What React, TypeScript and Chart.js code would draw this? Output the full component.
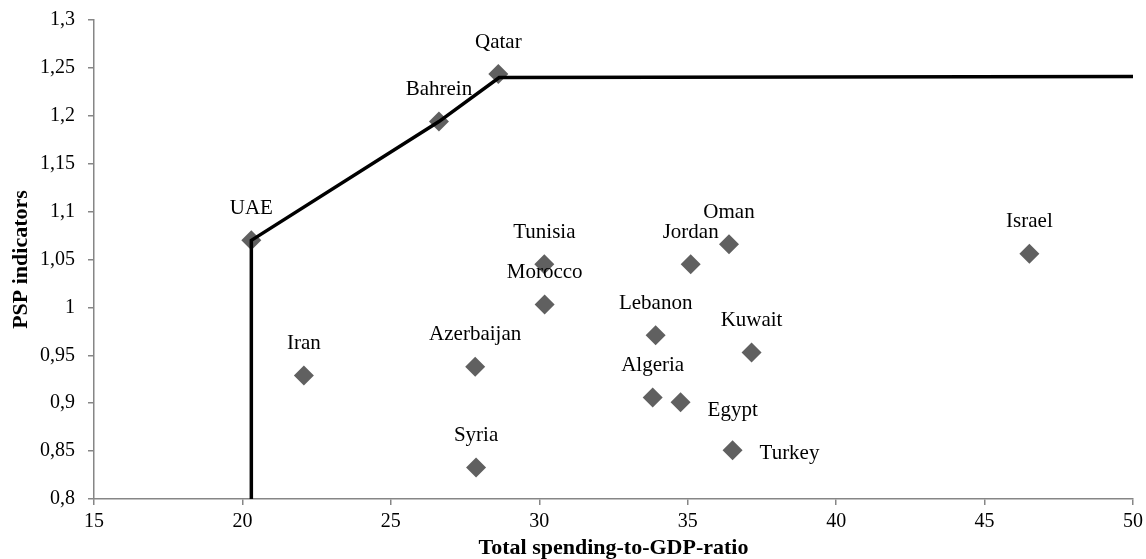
import React, { useEffect, useRef } from "react";
import { Chart, registerables } from "chart.js";

Chart.register(...registerables);

const countries = ["UAE", "Qatar", "Bahrein", "Iran", "Azerbaijan", "Syria", "Tunisia", "Morocco", "Jordan", "Oman", "Lebanon", "Kuwait", "Algeria", "Egypt", "Turkey", "Israel"];
const spending = [20.3, 28.62, 26.62, 22.07, 27.84, 27.87, 30.17, 30.18, 35.1, 36.39, 33.92, 37.15, 33.82, 34.76, 36.51, 46.51];
const psp = [1.07, 1.2436, 1.194, 0.929, 0.938, 0.833, 1.045, 1.003, 1.045, 1.066, 0.971, 0.953, 0.906, 0.901, 0.851, 1.056];

const frontierX = [20.3, 20.3, 26.62, 28.65, 50];
const frontierY = [0.8, 1.07, 1.194, 1.24, 1.241];

const xTitle = "Total spending-to-GDP-ratio";
const yTitle = "PSP indicators";

const SERIF = "'Liberation Serif', 'Times New Roman', serif";
const AXIS_GRAY = "#868686";

// label placement (style only)
const rightLabels: Record<string, number> = { Egypt: 8, Turkey: 3 };

const labelPlugin = {
  id: "pointLabels",
  afterDatasetsDraw(chart: any) {
    const meta = chart.getDatasetMeta(1);
    const ctx = chart.ctx;
    ctx.save();
    ctx.font = `21px ${SERIF}`;
    ctx.fillStyle = "#000";
    ctx.textBaseline = "middle";
    meta.data.forEach((el: any, i: number) => {
      const name = countries[i];
      if (name in rightLabels) {
        ctx.textAlign = "left";
        ctx.fillText(name, el.x + 27, el.y + rightLabels[name]);
      } else {
        ctx.textAlign = "center";
        ctx.fillText(name, el.x, el.y - 32);
      }
    });
    ctx.restore();
  },
};

function fmt(v: number) {
  return String(parseFloat(Number(v).toFixed(2))).replace(".", ",");
}

export default function App() {
  const ref = useRef<HTMLCanvasElement | null>(null);
  useEffect(() => {
    if (!ref.current) return;
    const chart = new Chart(ref.current, {
      type: "scatter",
      data: {
        datasets: [
          {
            type: "line",
            label: "Frontier",
            data: frontierX.map((x, i) => ({ x, y: frontierY[i] })),
            borderColor: "#000",
            borderWidth: 3.5,
            pointRadius: 0,
            fill: false,
            tension: 0,
            order: 0,
          } as any,
          {
            label: "Countries",
            data: spending.map((x, i) => ({ x, y: psp[i] })),
            pointStyle: "rectRot",
            pointRadius: 10,
            pointHoverRadius: 10,
            backgroundColor: "#606060",
            borderWidth: 0,
            order: 1,
          },
        ],
      },
      options: {
        responsive: false,
        animation: false,
        layout: { padding: { top: 20, right: 13, left: 0, bottom: 0 } },
        plugins: { legend: { display: false }, tooltip: { enabled: false } },
        scales: {
          x: {
            type: "linear",
            min: 15,
            max: 50,
            afterFit: (s: any) => {
              s.height = 60;
            },
            ticks: {
              stepSize: 5,
              autoSkip: false,
              maxRotation: 0,
              color: "#000",
              padding: 3,
              font: { family: SERIF, size: 20, lineHeight: 1.4 },
            },
            grid: { drawOnChartArea: false, drawTicks: true, tickLength: 6, color: AXIS_GRAY, lineWidth: 1.5 },
            border: { display: true, color: AXIS_GRAY, width: 1.5 },
            title: {
              display: true,
              text: xTitle,
              color: "#000",
              padding: 0,
              font: { family: SERIF, size: 22, weight: "bold", lineHeight: 1 },
            },
          },
          y: {
            type: "linear",
            min: 0.8,
            max: 1.3,
            afterFit: (s: any) => {
              s.width = 94;
            },
            ticks: {
              stepSize: 0.05,
              autoSkip: false,
              color: "#000",
              padding: 13,
              font: { family: SERIF, size: 20, lineHeight: 0.7 },
              callback: (v: any) => fmt(v),
            },
            grid: { drawOnChartArea: false, drawTicks: true, tickLength: 6, color: AXIS_GRAY, lineWidth: 1.5 },
            border: { display: true, color: AXIS_GRAY, width: 1.5 },
            title: {
              display: true,
              text: yTitle,
              color: "#000",
              padding: { top: 10, bottom: 0 },
              font: { family: SERIF, size: 22, weight: "bold", lineHeight: 1 },
            },
          },
        },
      },
      plugins: [labelPlugin],
    });
    return () => chart.destroy();
  }, []);
  return (
    <div style={{ position: "fixed", left: 0, top: 0, width: 1146, height: 559, background: "#fff" }}>
      <canvas ref={ref} width={1146} height={559} style={{ display: "block" }} />
    </div>
  );
}
